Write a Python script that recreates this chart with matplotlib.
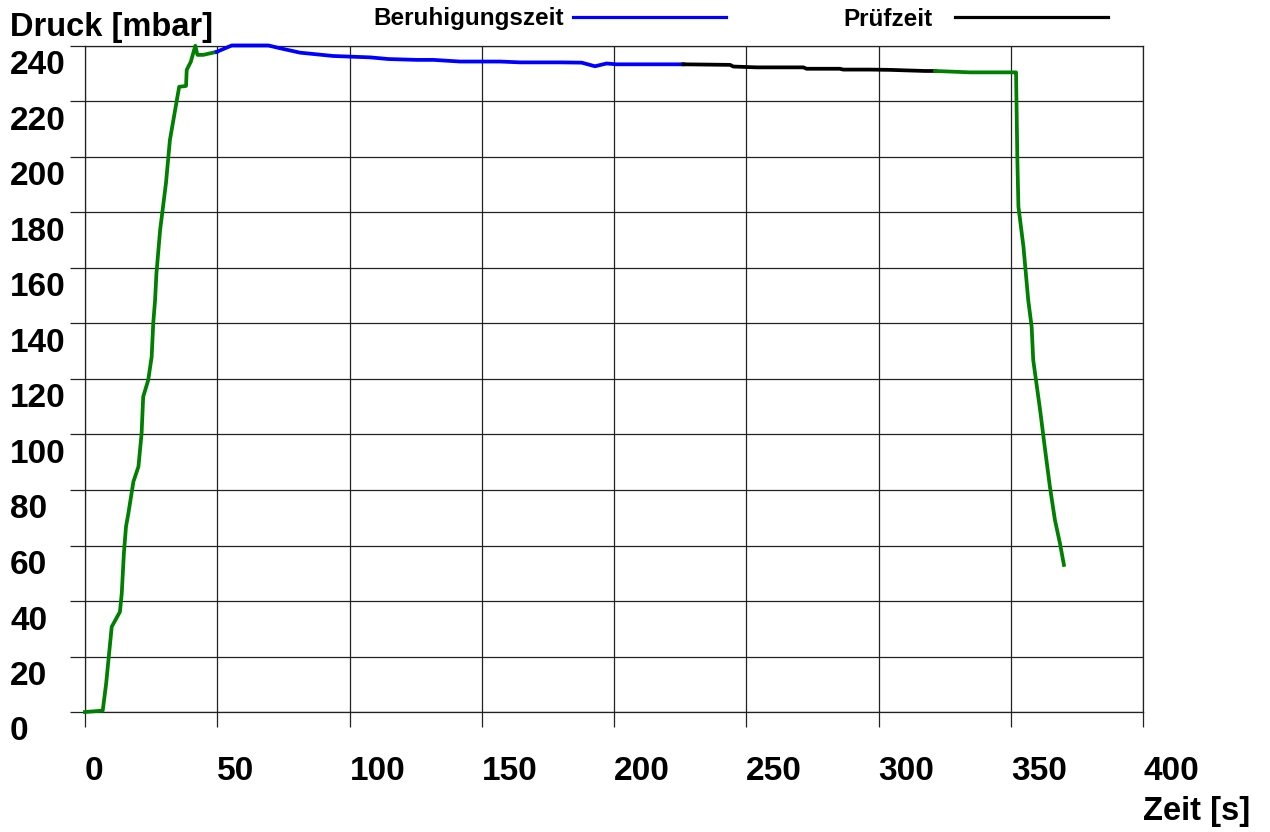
import matplotlib
matplotlib.use('Agg')
import matplotlib.pyplot as plt
from matplotlib.transforms import offset_copy

plt.rcParams['font.family'] = ['Liberation Sans', 'DejaVu Sans']
plt.rcParams['font.weight'] = 'bold'

# pressure curve, split into the phases (time in s, pressure in mbar)
t_fuellen = [0, 6.7, 8.0, 10.1, 13.2, 13.9, 14.7, 15.5, 16.4, 18.3, 20.2, 21.4, 22.0, 23.9,
             25.2, 25.8, 26.5, 27.0, 28.4, 30.6, 32.1, 35.6, 38.2, 38.45, 40.0, 41.7, 42.5,
             44.7, 49.8]
p_fuellen = [0, 0.5, 10.3, 30.7, 36.1, 42.8, 57.2, 66.8, 71.6, 83.0, 88.4, 100.4, 113.6, 119.6,
             128.0, 140.1, 148.5, 158.0, 173.7, 190.5, 206.1, 225.3, 225.6, 231.4, 234.3, 240.1,
             236.8, 236.8, 237.9]

t_beruhigung = [49.8, 55.5, 69.3, 73.7, 81.3, 93.8, 107.8, 114.7, 125.4, 131.7, 141.8, 156.9,
                164.5, 179.6, 187.8, 192.8, 197.2, 201.0, 226.2]
p_beruhigung = [237.9, 240.2, 240.2, 239.2, 237.6, 236.4, 235.9, 235.3, 235.0, 235.0, 234.4,
                234.4, 234.1, 234.1, 234.0, 232.7, 233.7, 233.4, 233.4]

t_pruef = [226.2, 243.9, 245.1, 253.9, 271.6, 272.8, 285.4, 286.7, 296.8, 304.3, 317.6, 321.4]
p_pruef = [233.4, 233.2, 232.6, 232.3, 232.3, 231.8, 231.8, 231.5, 231.5, 231.4, 231.0, 231.0]

t_entlueften = [321.4, 334.6, 351.6, 352.0, 352.5, 352.9, 354.8, 356.6, 357.9, 358.5, 361.1,
                363.0, 364.8, 366.7, 368.6, 370.1]
p_entlueften = [231.0, 230.5, 230.5, 230.5, 198.9, 182.1, 167.7, 148.5, 138.8, 126.8, 108.8,
                94.4, 81.2, 69.2, 60.8, 53.0]

x_ticks = [0, 50, 100, 150, 200, 250, 300, 350, 400]
y_ticks = [0, 20, 40, 60, 80, 100, 120, 140, 160, 180, 200, 220, 240]

fig = plt.figure(figsize=(12.7, 8.32), dpi=100)
ax = fig.add_axes([85/1270, 120/832, 1058/1270, 666/832])

lw = 2.7
ax.plot(t_fuellen, p_fuellen, color='#008000', lw=lw, clip_on=False, zorder=3)
ax.plot(t_beruhigung, p_beruhigung, color='#0000ff', lw=lw, clip_on=False, zorder=3,
        label='Beruhigungszeit')
ax.plot(t_pruef, p_pruef, color='black', lw=lw, clip_on=False, zorder=3, label='Prüfzeit')
ax.plot(t_entlueften, p_entlueften, color='#008000', lw=lw, clip_on=False, zorder=3)

ax.set_xlim(0, 400)
ax.set_ylim(0, 240)
ax.set_xticks(x_ticks)
ax.set_yticks(y_ticks)
ax.grid(True, color='#222222', lw=0.9)
ax.tick_params(direction='out', length=11, width=0.9, color='#222222',
               labelleft=False, labelbottom=False)
for s in ax.spines.values():
    s.set_color('#222222')
    s.set_linewidth(0.9)

# tick labels sit below / right of their grid lines
ytrans = offset_copy(ax.get_yaxis_transform(), fig=fig, x=0, y=-20, units='dots')
for y in y_ticks:
    ax.text(-75/1058, y, str(y), transform=ytrans, ha='left', va='center', fontsize=24,
            fontweight='bold')
xtrans = offset_copy(ax.get_xaxis_transform(), fig=fig, x=0, y=-60, units='dots')
for x in x_ticks:
    ax.text(x, 0, str(x), transform=xtrans, ha='left', va='center', fontsize=24,
            fontweight='bold')

fig.text(10/1270, 1 - 36/832, 'Druck [mbar]', ha='left', va='baseline', fontsize=23.5,
         fontweight='bold')
fig.text(1143/1270, 1 - 820/832, 'Zeit [s]', ha='left', va='baseline', fontsize=23.5,
         fontweight='bold')

# legend entries: text first, then the line
h = ax.get_lines()
leg1 = fig.legend([h[1]], ['Beruhigungszeit'], loc='center left',
                  bbox_to_anchor=(373/1270, 1 - 19/832), frameon=False, markerfirst=False,
                  handlelength=6.3, handletextpad=0.4, borderpad=0, borderaxespad=0,
                  prop={'size': 17.5, 'weight': 'bold'})
leg2 = fig.legend([h[2]], ['Prüfzeit'], loc='center left',
                  bbox_to_anchor=(843/1270, 1 - 19/832), frameon=False, markerfirst=False,
                  handlelength=6.3, handletextpad=0.95, borderpad=0, borderaxespad=0,
                  prop={'size': 17.5, 'weight': 'bold'})
for lg in (leg1, leg2):
    for ln in lg.get_lines():
        ln.set_linewidth(2.3)

fig.savefig('out.png', dpi=100)
